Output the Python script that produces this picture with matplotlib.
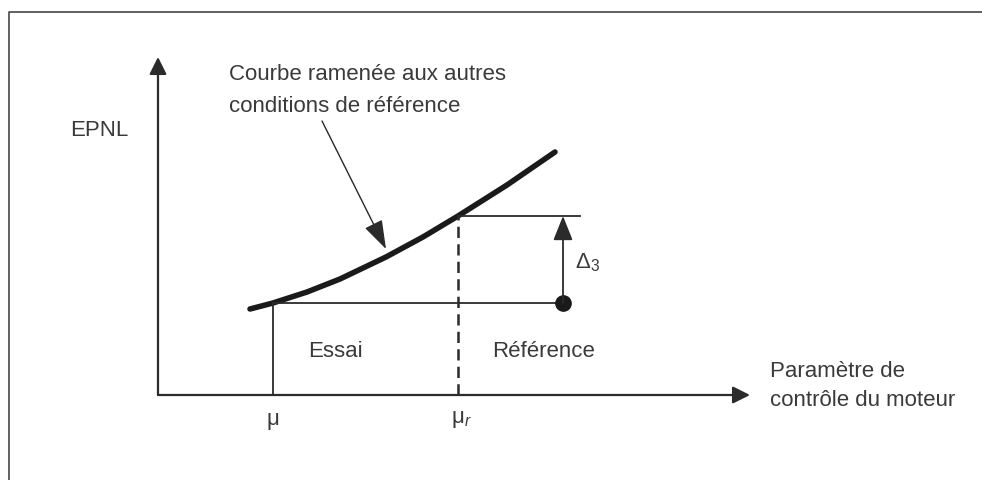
import matplotlib
matplotlib.use('Agg')
import matplotlib.pyplot as plt

plt.rcParams['font.family'] = ['Liberation Sans', 'DejaVu Sans']
plt.rcParams['mathtext.fontset'] = 'custom'
plt.rcParams['mathtext.rm'] = 'Liberation Sans'
plt.rcParams['mathtext.it'] = 'Liberation Sans:italic'

# diagram values (origin = axes crossing, units ~ pixels)
x_end, y_end = 592, 338            # axis arrow tips
mu, mu_r = 115, 300                # test / reference parameter
epnl_test, epnl_ref = 92, 179      # levels of the two horizontal lines
dot_x = 405                        # x of the delta arrow
ref_line_end = 422

curve_x = [92, 115, 149, 182, 228, 265, 300, 349, 397]
curve_y = [86, 92, 103, 116, 138, 158, 179, 210, 243]

ink = '#2b2b2b'
txt = '#3a3a3a'
fs = 16

fig = plt.figure(figsize=(9.82, 4.81), dpi=100)
ax = fig.add_axes([0, 0, 1, 1])
ax.set_xlim(-158, 824)
ax.set_ylim(-85, 396)
ax.axis('off')

# outer frame (cut by the image edge)
ax.plot([-149, -149, 824], [-85, 383, 383], color='#555555', lw=1.3)

# axes with arrows
ax.annotate('', xy=(0, y_end), xytext=(0, 0),
            arrowprops=dict(arrowstyle='-|>', lw=1.6, color=ink, mutation_scale=26, shrinkA=0, shrinkB=0))
ax.annotate('', xy=(x_end, 0), xytext=(0, 0),
            arrowprops=dict(arrowstyle='-|>', lw=1.6, color=ink, mutation_scale=26, shrinkA=0, shrinkB=0))

# curve
ax.plot(curve_x, curve_y, color='#1a1a1a', lw=4, solid_capstyle='round', solid_joinstyle='round')

# test lines
ax.plot([mu, mu], [0, epnl_test], color=ink, lw=1.3)
ax.plot([mu, dot_x], [epnl_test, epnl_test], color=ink, lw=1.3)
ax.plot(dot_x, epnl_test, 'o', color='#1a1a1a', ms=11)

# reference lines
ax.plot([mu_r, mu_r], [0, epnl_ref], color=ink, lw=1.8, ls=(0, (4.5, 2.5)))
ax.plot([mu_r, ref_line_end], [epnl_ref, epnl_ref], color=ink, lw=1.3)

# delta arrow
ax.annotate('', xy=(dot_x, epnl_ref), xytext=(dot_x, epnl_test),
            arrowprops=dict(arrowstyle='-|>,head_length=0.5,head_width=0.2', lw=1.3, color=ink,
                            mutation_scale=30, shrinkA=0, shrinkB=0))
ax.text(dot_x + 12, 133, r'Δ$_3$', fontsize=fs, color=txt, va='center', ha='left')

# annotation pointing to curve
ax.annotate('', xy=(228, 146), xytext=(164, 274),
            arrowprops=dict(arrowstyle='-|>,head_length=0.6,head_width=0.2', lw=1.0, color=ink,
                            mutation_scale=30, shrinkA=0, shrinkB=0))
ax.text(71, 321, 'Courbe ramenée aux autres', fontsize=fs, color=txt, va='center', ha='left')
ax.text(71, 290, 'conditions de référence', fontsize=fs, color=txt, va='center', ha='left')

# labels
ax.text(-30, 265, 'EPNL', fontsize=fs, color=txt, va='center', ha='right')
ax.text(150, 44, 'Essai', fontsize=fs, color=txt, va='center', ha='left')
ax.text(334, 44, 'Référence', fontsize=fs, color=txt, va='center', ha='left')
ax.text(612, 24, 'Paramètre de', fontsize=fs, color=txt, va='center', ha='left')
ax.text(612, -5, 'contrôle du moteur', fontsize=fs, color=txt, va='center', ha='left')
ax.text(mu, -24, 'μ', fontsize=fs, color=txt, va='center', ha='center')
ax.text(mu_r - 7, -24, r'μ$_{\mathit{r}}$', fontsize=fs, color=txt, va='center', ha='left')

fig.savefig('out.png', dpi=100)
